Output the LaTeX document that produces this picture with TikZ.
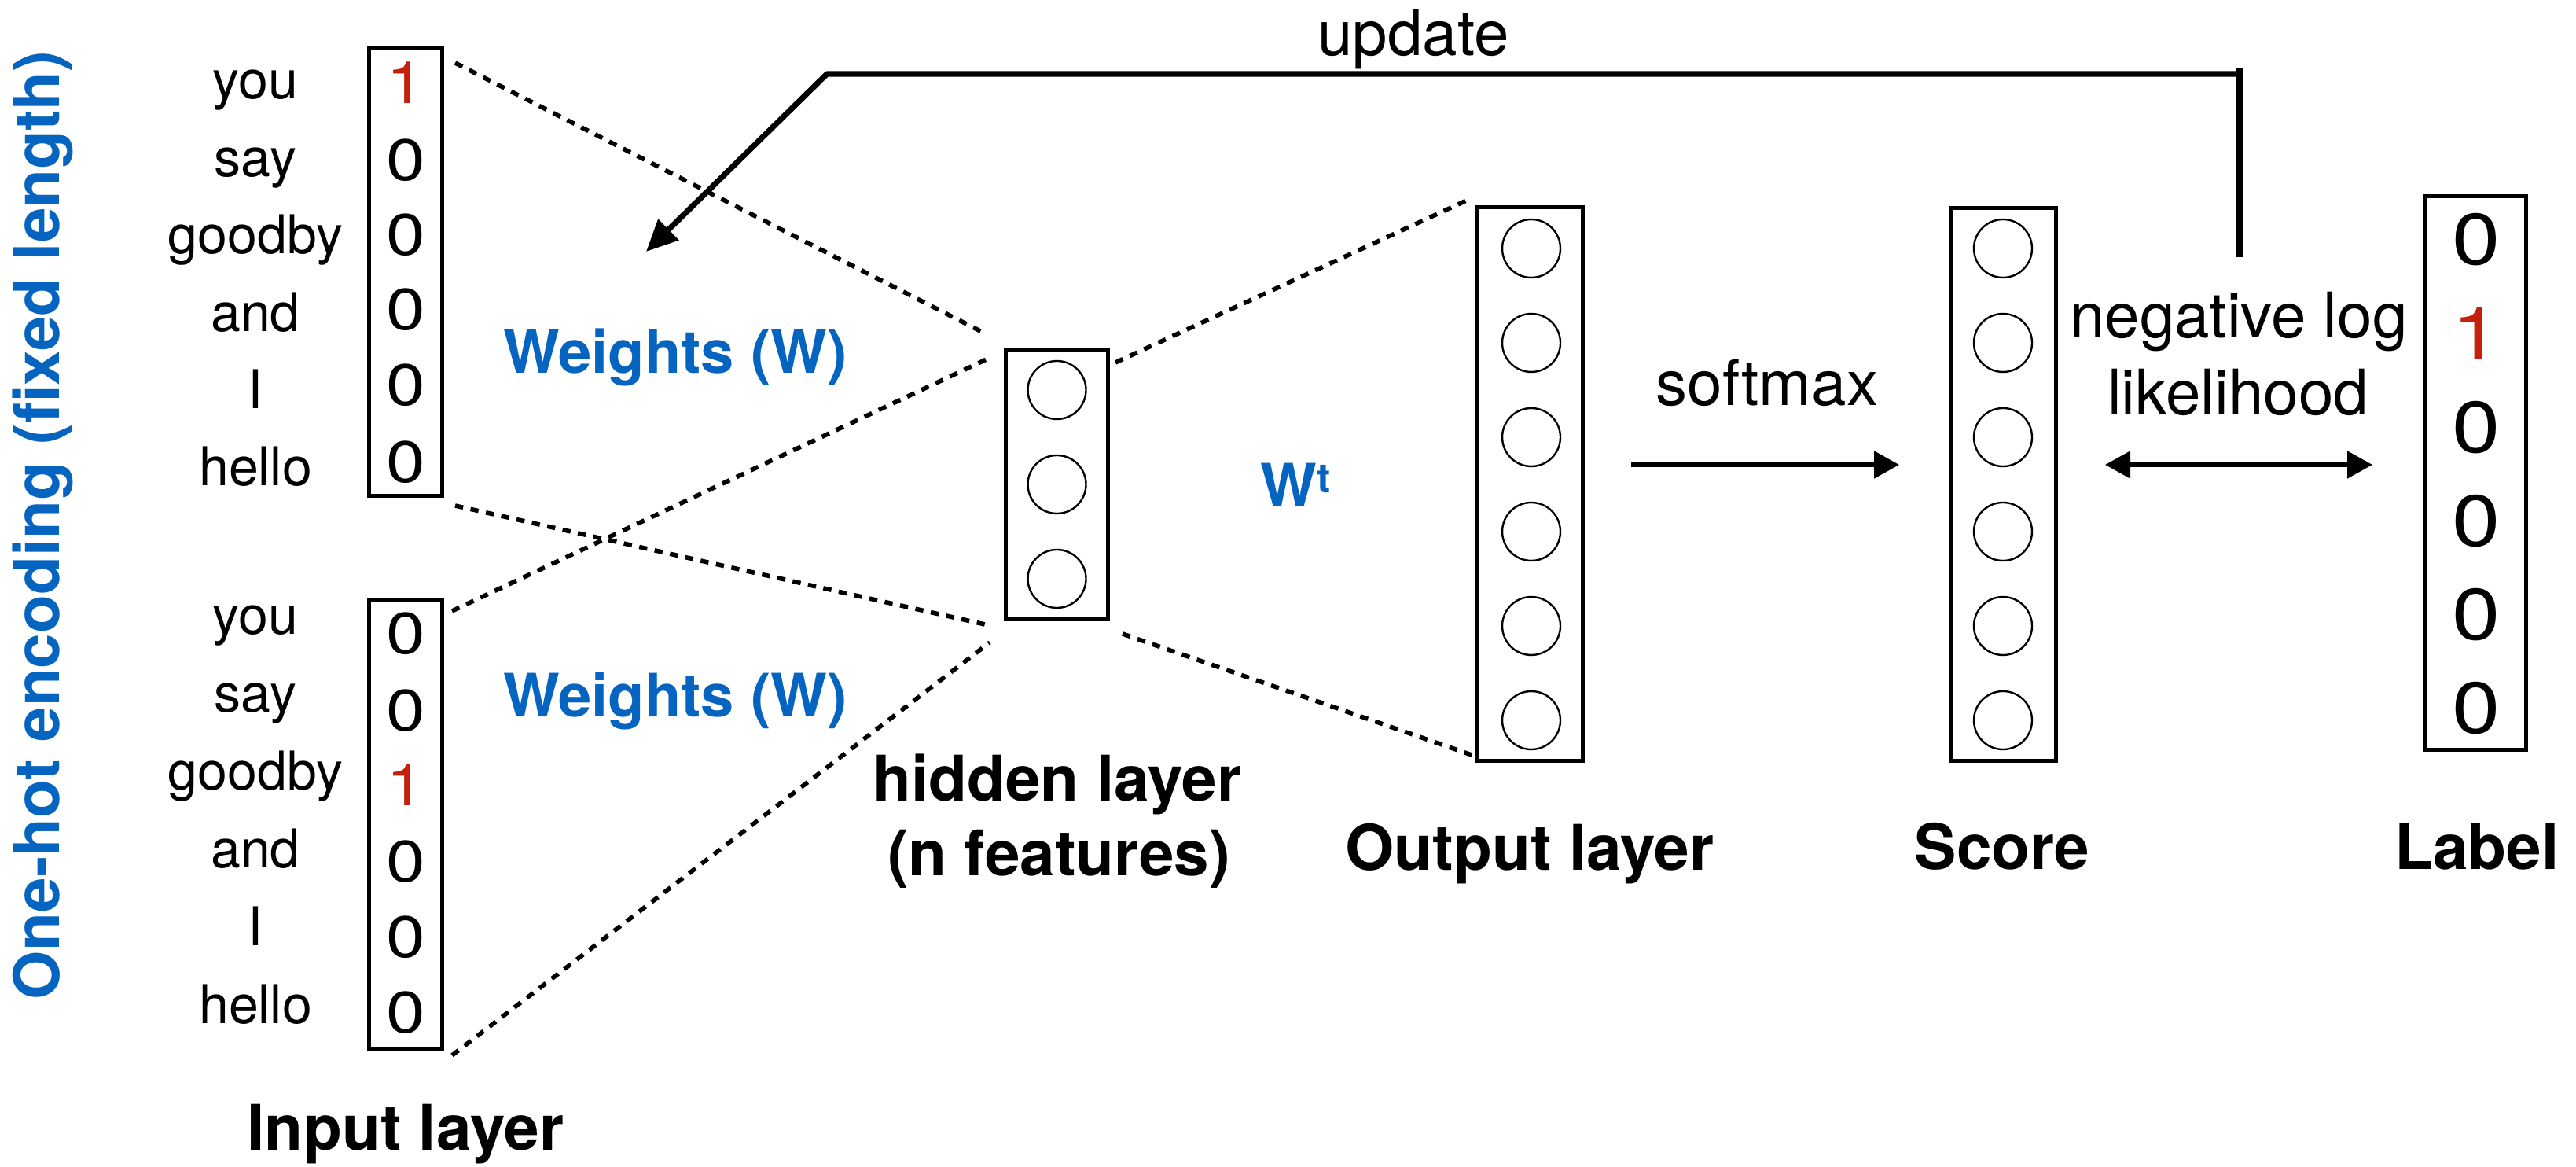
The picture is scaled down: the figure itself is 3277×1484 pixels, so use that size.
\documentclass[tikz,border=0pt]{standalone}
\usepackage{fontspec}
\setmainfont{TeX Gyre Heros}
\usetikzlibrary{arrows.meta}
\definecolor{wblue}{RGB}{6,100,193}
\definecolor{hotred}{RGB}{196,32,12}
\tikzset{
  layerbox/.style={draw, rectangle, line width=1.4pt, inner sep=0pt},
  neuron/.style={draw, circle, line width=0.6pt, minimum size=18.5pt, inner sep=0pt},
  conn/.style={line width=1.4pt, dash pattern=on 2.6pt off 2.4pt},
  word/.style={anchor=base, inner sep=0pt, font=\fontsize{17}{20}\selectfont},
  digit/.style={anchor=base, inner sep=0pt, font=\fontsize{18.6}{22}\selectfont},
  bigdigit/.style={anchor=base, inner sep=0pt, font=\fontsize{23}{27}\selectfont},
  boldlabel/.style={anchor=base, inner sep=0pt, font=\fontsize{20}{24}\selectfont\bfseries},
  plainlabel/.style={anchor=base, inner sep=0pt, font=\fontsize{20}{24}\selectfont},
  weightlabel/.style={anchor=base, inner sep=0pt, text=wblue, font=\fontsize{19}{23}\selectfont\bfseries},
  updline/.style={line width=1.8pt},
  flowarrow/.style={line width=1.3pt},
}
\newcommand{\widedigit}[1]{\scalebox{1.2}[1]{#1}}
\begin{document}
\begin{tikzpicture}[x=0.25pt,y=-0.25pt]
\fill[white] (0,0) rectangle (3277,1484);
\useasboundingbox (0,0) rectangle (3277,1484);

% side label
\node[anchor=base, inner sep=0pt, rotate=90, text=wblue, font=\fontsize{20}{24}\selectfont\bfseries] (onehot) at (76,668) {One-hot encoding (fixed length)};

% input boxes
\node[layerbox, minimum width=23.25pt, minimum height=142.25pt] (in1) at (516,346) {};
\node[layerbox, minimum width=23.25pt, minimum height=142.5pt] (in2) at (516,1048.5) {};

\foreach \w [count=\i] in {you,say,goodby,and,I,hello} {
  \node[word] (tw\i) at (325,{126+98.4*(\i-1)}) {\w};
  \node[word] (bw\i) at (325,{807+99*(\i-1)}) {\w};
}
\foreach \v/\col/\y [count=\i] in {1/hotred/132,0/black/230,0/black/325,0/black/420,0/black/516,0/black/614} {
  \node[digit, text=\col] (td\i) at (516,\y) {\widedigit{\v}};
}
\foreach \v/\col/\y [count=\i] in {0/black/832,0/black/930,1/hotred/1025,0/black/1122,0/black/1218,0/black/1313} {
  \node[digit, text=\col] (bd\i) at (516,\y) {\widedigit{\v}};
}
\node[boldlabel] (inlab) at (516,1462) {Input layer};

% weights labels
\node[weightlabel] (wtop) at (859,475) {Weights (W)};
\node[weightlabel] (wbot) at (859,912) {Weights (W)};
\node[weightlabel, anchor=base west] (wt) at (1603,645) {W\raisebox{4.5pt}{\fontsize{13}{13}\selectfont t}};

% hidden layer
\node[layerbox, minimum width=32.5pt, minimum height=85.75pt] (hid) at (1344.5,616) {};
\foreach \y [count=\i] in {496,616,736} {
  \node[neuron] (h\i) at (1344.5,\y) {};
}
\node[boldlabel] (hidlab1) at (1345,1019) {hidden layer};
\node[boldlabel] (hidlab2) at (1347,1114) {(n features)};

% output layer
\node[layerbox, minimum width=33.5pt, minimum height=176pt] (out) at (1946.5,615.5) {};
\foreach \i in {1,...,6} {
  \node[neuron] (o\i) at (1948,{316+120*(\i-1)}) {};
}
\node[boldlabel] (outlab) at (1946,1107) {Output layer};

% score
\node[layerbox, minimum width=33.25pt, minimum height=175.75pt] (score) at (2549,616) {};
\foreach \i in {1,...,6} {
  \node[neuron] (s\i) at (2548,{316+120*(\i-1)}) {};
}
\node[boldlabel] (scorelab) at (2547,1106) {Score};

% label
\node[layerbox, minimum width=32pt, minimum height=176pt] (lab) at (3149.5,601.5) {};
\foreach \v/\col [count=\i] in {0/black,1/hotred,0/black,0/black,0/black,0/black} {
  \node[bigdigit, text=\col] (ld\i) at (3150,{337+119.2*(\i-1)}) {\widedigit{\v}};
}
\node[boldlabel] (lablab) at (3151,1106) {Label};

% dotted connections
\coordinate (c1a) at (579,80);   \coordinate (c1b) at (1253,424);
\coordinate (c2a) at (579,643);  \coordinate (c2b) at (1253,794);
\coordinate (c3a) at (575,777);  \coordinate (c3b) at (1259,455);
\coordinate (c4a) at (575,1342); \coordinate (c4b) at (1259,817);
\coordinate (c5a) at (1419,461); \coordinate (c5b) at (1872,252);
\coordinate (c6a) at (1428,806); \coordinate (c6b) at (1875,961);
\draw[conn] (c1a) -- (c1b);
\draw[conn] (c2a) -- (c2b);
\draw[conn] (c3a) -- (c3b);
\draw[conn] (c4a) -- (c4b);
\draw[conn] (c5a) -- (c5b);
\draw[conn] (c6a) -- (c6b);

% softmax and likelihood arrows
\coordinate (smA) at (2075,591); \coordinate (smB) at (2416,591);
\draw[flowarrow, -{Triangle[length=8pt,width=8.5pt]}] (smA) -- (smB);
\node[plainlabel] (smlab) at (2248,516) {softmax};
\coordinate (nlA) at (2678,591); \coordinate (nlB) at (3018,591);
\draw[flowarrow, {Triangle[length=8pt,width=8.5pt]}-{Triangle[length=8pt,width=8.5pt]}] (nlA) -- (nlB);
\node[plainlabel] (nllab1) at (2848,430) {negative log};
\node[plainlabel] (nllab2) at (2847,528) {likelihood};

% update path
\coordinate (upA) at (2849,327);
\coordinate (upB) at (2849,86);
\coordinate (upR) at (2849,94);
\coordinate (upL) at (1052,94);
\coordinate (upT) at (822,320);
\draw[updline] (upA) -- (upB);
\draw[updline, line join=round, -{Triangle[length=10pt,width=9pt]}] (upR) -- (upL) -- (upT);
\node[plainlabel] (updlab) at (1798,71) {update};
\end{tikzpicture}
\end{document}
